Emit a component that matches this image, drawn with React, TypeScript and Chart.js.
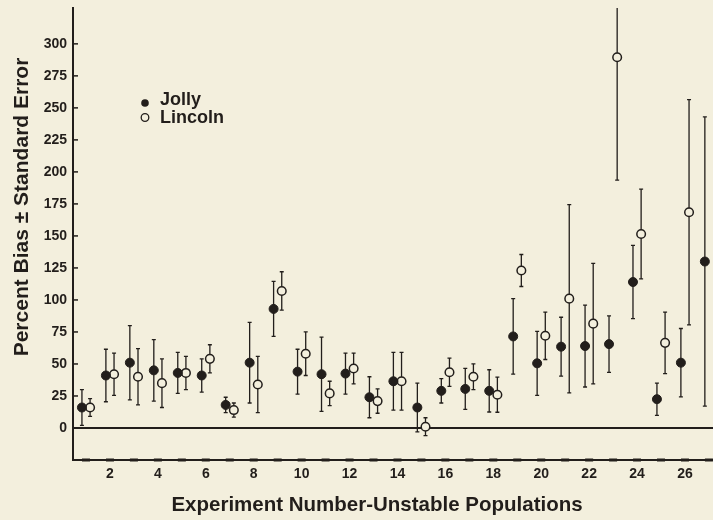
import React, { useEffect, useRef } from 'react';
import { Chart, registerables } from 'chart.js';

Chart.register(...registerables);

// ---- data ----
const experiments = [1, 2, 3, 4, 5, 6, 7, 8, 9, 10, 11, 12, 13, 14, 15, 16, 17, 18, 19, 20, 21, 22, 23, 24, 25, 26, 27];
const xTickLabels = ['2', '4', '6', '8', '10', '12', '14', '16', '18', '20', '22', '24', '26'];
const yTickValues = [0, 25, 50, 75, 100, 125, 150, 175, 200, 225, 250, 275, 300];
const seriesNames = ['Jolly', 'Lincoln'];
const jollyMean = [16, 41, 51, 45, 43, 41, 18, 51, 93, 44, 42, 42.5, 24, 36.5, 16, 29, 30.5, 29, 71.5, 50.5, 63.5, 64, 65.5, 114, 22.5, 51, 130];
const jollySE = [14, 20.5, 29, 24, 16, 13, 6, 31.5, 21.5, 17.5, 29, 16, 16, 22.5, 19, 9.5, 16, 16.5, 29.5, 25, 23, 32, 22, 28.6, 12.6, 26.7, 113];
const lincolnMean = [16, 42, 40, 35, 43, 54, 14, 34, 107, 58, 27, 46.5, 21, 36.5, 1, 43.5, 40, 26, 123, 72, 101, 81.5, 289.5, 151.5, 66.5, 168.5, null];
const lincolnSE = [7, 16.5, 22, 19, 13, 11, 5.5, 22, 15, 17, 9.5, 12, 9.5, 22.5, 7, 11, 10, 13.7, 12.5, 18.5, 73.5, 47, 96, 35, 24, 88, null];
const xAxisTitle = 'Experiment Number-Unstable Populations';
const yAxisTitle = 'Percent Bias \u00B1 Standard Error';

// ---- style ----
const INK = '#221e1b';
const BG = '#f3efdd';
const FONT = '"Liberation Sans", Arial, Helvetica, sans-serif';
const OFFSET = 0.17;

function toPoints(means: (number | null)[], ses: (number | null)[], shift: number) {
  const pts: { x: number; y: number; se: number }[] = [];
  means.forEach((m, i) => {
    if (m == null) return;
    pts.push({ x: experiments[i] + shift, y: m, se: (ses[i] as number) || 0 });
  });
  return pts;
}

const errorBarPlugin = {
  id: 'errorBars',
  beforeDatasetsDraw(chart: any) {
    const { ctx, chartArea, scales } = chart;
    const xs = scales.x;
    const ys = scales.y;
    ctx.save();
    ctx.beginPath();
    ctx.rect(chartArea.left, chartArea.top, chartArea.right - chartArea.left, chartArea.bottom - chartArea.top);
    ctx.clip();
    ctx.strokeStyle = INK;
    ctx.lineWidth = 1.3;
    chart.data.datasets.forEach((ds: any) => {
      ds.data.forEach((p: any) => {
        if (!p || !p.se) return;
        const px = xs.getPixelForValue(p.x);
        const yt = ys.getPixelForValue(p.y + p.se);
        const yb = ys.getPixelForValue(p.y - p.se);
        ctx.beginPath();
        ctx.moveTo(px, yt);
        ctx.lineTo(px, yb);
        ctx.moveTo(px - 2, yt);
        ctx.lineTo(px + 2, yt);
        ctx.moveTo(px - 2, yb);
        ctx.lineTo(px + 2, yb);
        ctx.stroke();
      });
    });
    ctx.restore();
  },
};

const decorPlugin = {
  id: 'decor',
  afterDraw(chart: any) {
    const { ctx, chartArea, scales } = chart;
    const xs = scales.x;
    const ys = scales.y;
    ctx.save();
    // inward y ticks
    ctx.strokeStyle = INK;
    ctx.lineWidth = 1.5;
    ys.ticks.forEach((t: any) => {
      const py = ys.getPixelForValue(t.value);
      ctx.beginPath();
      ctx.moveTo(chartArea.left, py);
      ctx.lineTo(chartArea.left + 5, py);
      ctx.stroke();
    });
    // dashes on the x axis
    ctx.lineWidth = 3;
    xs.ticks.forEach((t: any) => {
      const px = xs.getPixelForValue(t.value);
      ctx.beginPath();
      ctx.moveTo(px - 4, chartArea.bottom);
      ctx.lineTo(px + 4, chartArea.bottom);
      ctx.stroke();
    });
    // axis titles
    ctx.fillStyle = INK;
    ctx.font = `bold 20.5px ${FONT}`;
    ctx.textAlign = 'center';
    ctx.textBaseline = 'middle';
    ctx.fillText(xAxisTitle, 377, 505);
    ctx.save();
    ctx.font = `bold 21px ${FONT}`;
    ctx.translate(22, 207);
    ctx.rotate(-Math.PI / 2);
    ctx.fillText(yAxisTitle, 0, 0);
    ctx.restore();
    // legend
    const items = [
      { name: seriesNames[0], filled: true, cy: 103, base: 105 },
      { name: seriesNames[1], filled: false, cy: 117.5, base: 123 },
    ];
    ctx.font = `bold 18px ${FONT}`;
    ctx.textAlign = 'left';
    ctx.textBaseline = 'alphabetic';
    items.forEach((it) => {
      ctx.beginPath();
      ctx.arc(145, it.cy, 3.8, 0, Math.PI * 2);
      if (it.filled) {
        ctx.fillStyle = INK;
        ctx.fill();
      } else {
        ctx.lineWidth = 1.3;
        ctx.strokeStyle = INK;
        ctx.stroke();
      }
      ctx.fillStyle = INK;
      ctx.fillText(it.name, 160, it.base);
    });
    ctx.restore();
  },
};

export default function App() {
  const ref = useRef<HTMLCanvasElement>(null);
  useEffect(() => {
    if (!ref.current) return;
    const chart = new Chart(ref.current, {
      type: 'scatter',
      data: {
        datasets: [
          {
            label: seriesNames[0],
            data: toPoints(jollyMean, jollySE, -OFFSET),
            pointRadius: 4.5,
            pointBackgroundColor: INK,
            pointBorderColor: INK,
            pointBorderWidth: 1,
          },
          {
            label: seriesNames[1],
            data: toPoints(lincolnMean, lincolnSE, OFFSET),
            pointRadius: 4.3,
            pointBackgroundColor: BG,
            pointBorderColor: INK,
            pointBorderWidth: 1.5,
          },
        ],
      } as any,
      options: {
        animation: false,
        responsive: false,
        layout: { autoPadding: false, padding: { top: 8, left: 0, right: 0, bottom: 0 } },
        plugins: { legend: { display: false }, tooltip: { enabled: false } },
        scales: {
          x: {
            type: 'linear',
            min: 0.457,
            max: 27.17,
            afterBuildTicks: (s: any) => {
              s.ticks = experiments.map((v) => ({ value: v }));
            },
            afterFit: (s: any) => {
              s.height = 60;
              s.paddingLeft = 0;
              s.paddingRight = 0;
            },
            ticks: {
              autoSkip: false,
              maxRotation: 0,
              padding: 6,
              color: INK,
              font: { family: FONT, size: 14, weight: 'bold' },
              callback: (v: any) => (xTickLabels.includes(String(v)) ? String(v) : ''),
            },
            grid: { drawOnChartArea: false, drawTicks: false },
            border: { display: true, color: INK, width: 2 },
          },
          y: {
            type: 'linear',
            min: -25,
            max: 328,
            afterBuildTicks: (s: any) => {
              s.ticks = yTickValues.map((v) => ({ value: v }));
            },
            afterFit: (s: any) => {
              s.width = 73;
              s.paddingTop = 0;
              s.paddingBottom = 0;
            },
            ticks: {
              padding: 6,
              color: INK,
              font: { family: FONT, size: 14, weight: 'bold' },
              callback: (v: any) => String(v),
            },
            grid: {
              drawTicks: false,
              lineWidth: 2,
              color: (c: any) => (c.tick && c.tick.value === 0 ? INK : 'rgba(0,0,0,0)'),
            },
            border: { display: true, color: INK, width: 2 },
          },
        },
      } as any,
      plugins: [errorBarPlugin, decorPlugin],
    });
    return () => chart.destroy();
  }, []);
  return (
    <div style={{ position: 'fixed', left: 0, top: 0, width: 713, height: 520, background: BG }}>
      <canvas ref={ref} width={713} height={520} style={{ display: 'block' }} />
    </div>
  );
}
